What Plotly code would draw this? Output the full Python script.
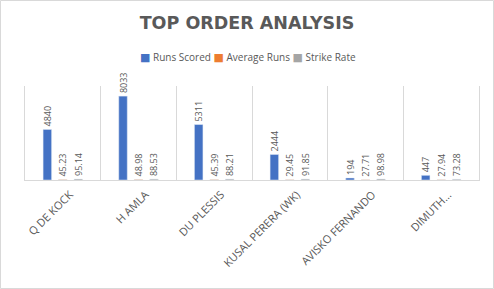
import plotly.graph_objects as go

players = ["Q DE KOCK", "H AMLA", "DU PLESSIS", "KUSAL PERERA (WK)", "AVISKO FERNANDO", "DIMUTH..."]
runs_scored = [4840, 8033, 5311, 2444, 194, 447]
average_runs = [45.23, 48.98, 45.39, 29.45, 27.71, 27.94]
strike_rate = [95.14, 88.53, 88.21, 91.85, 98.98, 73.28]

series = [
    ("Runs Scored", runs_scored, "#4472C4"),
    ("Average Runs", average_runs, "#ED7D31"),
    ("Strike Rate", strike_rate, "#A5A5A5"),
]

TXT = "#595959"
FONT = "Open Sans"

fig = go.Figure()
for name, vals, color in series:
    fig.add_trace(go.Bar(
        name=name, x=players, y=vals, marker_color=color,
        text=[f"{v:g}" for v in vals], textposition="outside", textangle=-90,
        constraintext="none",
        textfont=dict(size=9, color=TXT, family=FONT),
        cliponaxis=False, showlegend=False,
    ))

W, H = 494, 289
ml, mr, mt, mb = 25, 15, 86, 109
pw, ph = W - ml - mr, H - mt - mb

legend_text = "&nbsp;".join(
    f"<span style='color:{c};font-family:DejaVu Sans;font-size:11px'>■</span>&nbsp;{n}"
    for n, _, c in series)

fig.update_layout(
    width=W, height=H,
    margin=dict(l=ml, r=mr, t=mt, b=mb, pad=0),
    paper_bgcolor="white", plot_bgcolor="white",
    barmode="group", bargap=0.386, bargroupgap=0.45,
    title=dict(text="<b>TOP ORDER ANALYSIS</b>", x=(247 - 0) / W, xanchor="center",
               xref="container",
               y=1 - 23 / H, yanchor="middle", yref="container",
               font=dict(size=17.5, color=TXT, family="DejaVu Sans")),
    showlegend=False,
    annotations=[dict(text=legend_text, xref="paper", yref="paper",
                      x=(247.5 - ml) / pw, y=1 + (mt - 57) / ph,
                      xanchor="center", yanchor="middle", showarrow=False,
                      font=dict(size=10, color=TXT, family=FONT))],
    xaxis=dict(tickson="boundaries", showgrid=True, gridcolor="#D9D9D9", gridwidth=1,
               showline=True, linecolor="#D9D9D9", linewidth=1, ticks="",
               tickangle=-45, ticklabelstandoff=3, ticklabelshift=7,
               tickfont=dict(size=11, color=TXT, family=FONT)),
    yaxis=dict(range=[0, 9000], showgrid=False, showticklabels=False, zeroline=False,
               showline=True, linecolor="#D9D9D9", linewidth=1, mirror=True, ticks=""),
    font=dict(family=FONT, color=TXT),
    shapes=[dict(type="rect", xref="paper", yref="paper",
                 x0=(0.5 - ml) / pw, x1=(W - 0.5 - ml) / pw,
                 y0=-(mb - 0.5) / ph, y1=1 + (mt - 0.5) / ph,
                 line=dict(color="#D9D9D9", width=1), layer="below")],
)

fig.write_html("out.html")
